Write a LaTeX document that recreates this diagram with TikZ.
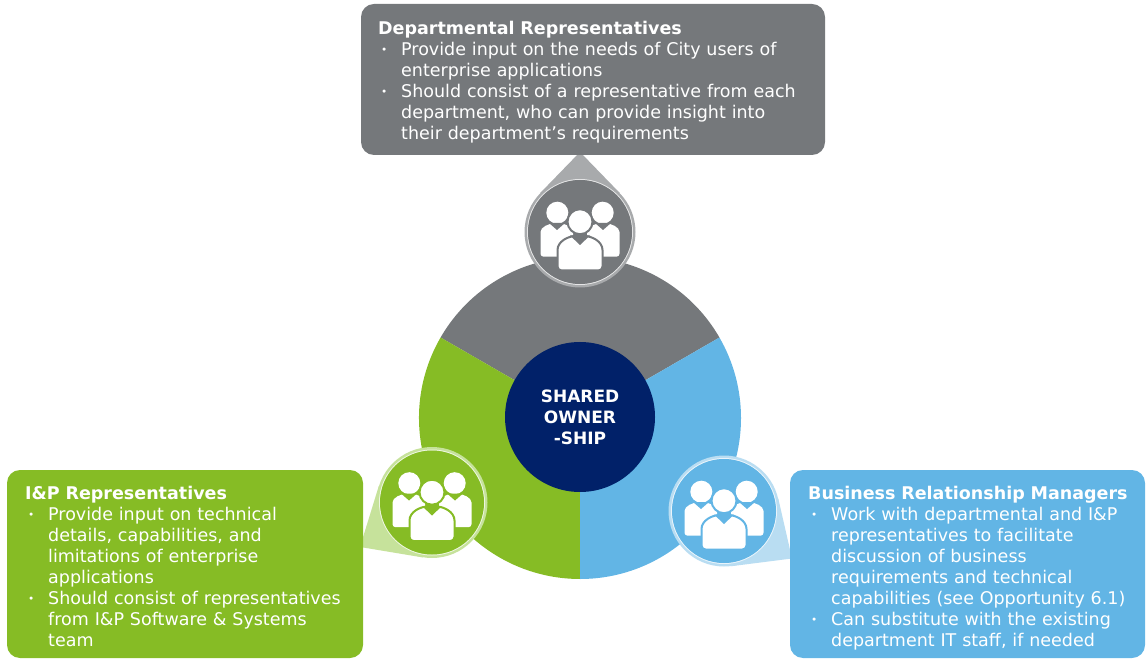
\documentclass[tikz,border=0pt]{standalone}
\usepackage{fontspec}
\setmainfont{DejaVu Sans}
\usetikzlibrary{calc}

\definecolor{cgray}{HTML}{75787B}
\definecolor{lgray}{HTML}{A8AAAC}
\definecolor{cgreen}{HTML}{86BC25}
\definecolor{lgreen}{HTML}{C6E29B}
\definecolor{cblue}{HTML}{62B5E5}
\definecolor{lblue}{HTML}{B9DDF2}
\definecolor{cnavy}{HTML}{012169}

\newcommand\bul{\par\hangindent=23pt\hangafter=1\noindent
  \makebox[23pt][l]{\hspace{3pt}\raisebox{1.5pt}{\scalebox{.6}{\textbullet}}}}

\tikzset{
  pics/crowd/.style={code={
    % back persons
    \fill[white] (-22.7,19.3) circle[radius=11];
    \fill[white] (22.7,19.3) circle[radius=11];
    \fill[white,rounded corners=3pt] (-39.5,-24.7) -- (-39.5,-3) .. controls (-39.5,5) and (-31,8.5) .. (-23,8.5)
      .. controls (-15,8.5) and (-7,5) .. (-7,-3) -- (-7,-24.7) -- cycle;
    \fill[white,rounded corners=3pt] (39.5,-24.7) -- (39.5,-3) .. controls (39.5,5) and (31,8.5) .. (23,8.5)
      .. controls (15,8.5) and (7,5) .. (7,-3) -- (7,-24.7) -- cycle;
    \fill[#1] (-31,9) -- (-23,2) -- (-15,9) -- cycle;
    \fill[#1] (31,9) -- (23,2) -- (15,9) -- cycle;
    % front person
    \filldraw[white,draw=#1,line width=2pt] (0,10.3) circle[radius=12.5];
    \filldraw[white,draw=#1,line width=2pt,rounded corners=4pt] (-22.5,-38.5) -- (-22.5,-22)
      .. controls (-22.5,-9.5) and (-12,-4) .. (0,-4) .. controls (12,-4) and (22.5,-9.5) .. (22.5,-22)
      -- (22.5,-38.5) -- cycle;
    \fill[#1] (-10,-3.5) -- (0,-13) -- (10,-3.5) -- cycle;
  }}
}

\begin{document}
\begin{tikzpicture}
  [x=1pt,y=1pt,
   every node/.style={inner sep=0pt},
   icon/.style={circle,minimum size=111pt},
   infobox/.style={rounded corners=13pt},
   txt/.style={anchor=north west,text width=460pt,text=white,
     font=\fontsize{17.5}{21}\selectfont}]
  \useasboundingbox (0,0) rectangle (1147,659);

  % ring
  \fill[cgray] (580,241) -- +(30:161) arc[start angle=30,end angle=150,radius=161] -- cycle;
  \fill[cgreen] (580,241) -- +(150:161) arc[start angle=150,end angle=270,radius=161] -- cycle;
  \fill[cblue] (580,241) -- +(270:161) arc[start angle=270,end angle=390,radius=161] -- cycle;
  \node[circle,fill=cnavy,minimum size=150pt] (nmid) at (580,242) {};
  \node[align=center,text=white,font=\bfseries\fontsize{17}{21}\selectfont] at (nmid) {SHARED\\OWNER\\-SHIP};

  % icons and pointers
  \node[icon] (itop) at (580,427) {};
  \node[icon] (ileft) at (432,156.5) {};
  \node[icon] (iright) at (724,148) {};
  \coordinate (ptop) at (580,507);
  \coordinate (pleft) at (360,112);
  \coordinate (pright) at (792,100.5);
  \fill[lgray] (ptop) -- (tangent cs:node=itop,point={(ptop)},solution=1)
    -- (tangent cs:node=itop,point={(ptop)},solution=2) -- cycle;
  \fill[lgreen] (pleft) -- (tangent cs:node=ileft,point={(pleft)},solution=1)
    -- (tangent cs:node=ileft,point={(pleft)},solution=2) -- cycle;
  \fill[lblue] (pright) -- (tangent cs:node=iright,point={(pright)},solution=1)
    -- (tangent cs:node=iright,point={(pright)},solution=2) -- cycle;
  \fill[lgray] (itop) circle[radius=55.5];
  \draw[white,line width=1pt,opacity=.7] (itop) circle[radius=52.5];
  \fill[cgray] (itop) circle[radius=52];
  \fill[lgreen] (ileft) circle[radius=55.5];
  \draw[white,line width=1pt,opacity=.7] (ileft) circle[radius=52.5];
  \fill[cgreen] (ileft) circle[radius=52];
  \fill[lblue] (iright) circle[radius=55.5];
  \draw[white,line width=1pt,opacity=.7] (iright) circle[radius=52.5];
  \fill[cblue] (iright) circle[radius=52];
  \pic at (itop) {crowd=cgray};
  \pic at (ileft) {crowd=cgreen};
  \pic at (iright) {crowd=cblue};

  % boxes
  \fill[cgray,infobox] (361,504) rectangle (825,655);
  \fill[cgreen,infobox] (7,1) rectangle (363,189);
  \fill[cblue,infobox] (790,1) rectangle (1145,189);

  \node[txt] (ttop) at (378,638) {\textbf{Departmental Representatives}
    \bul Provide input on the needs of City users of\newline enterprise applications
    \bul Should consist of a representative from each\newline department, who can provide insight into\newline their department’s requirements\par};
  \node[txt] (tleft) at (25,173) {\textbf{I\&P Representatives}
    \bul Provide input on technical\newline details, capabilities, and\newline limitations of enterprise\newline applications
    \bul Should consist of representatives\newline from I\&P Software \& Systems\newline team\par};
  \node[txt] (tright) at (808,173) {\textbf{Business Relationship Managers}
    \bul Work with departmental and I\&P\newline representatives to facilitate\newline discussion of business\newline requirements and technical\newline capabilities (see Opportunity 6.1)
    \bul Can substitute with the existing\newline department IT staff, if needed\par};
\end{tikzpicture}
\end{document}
